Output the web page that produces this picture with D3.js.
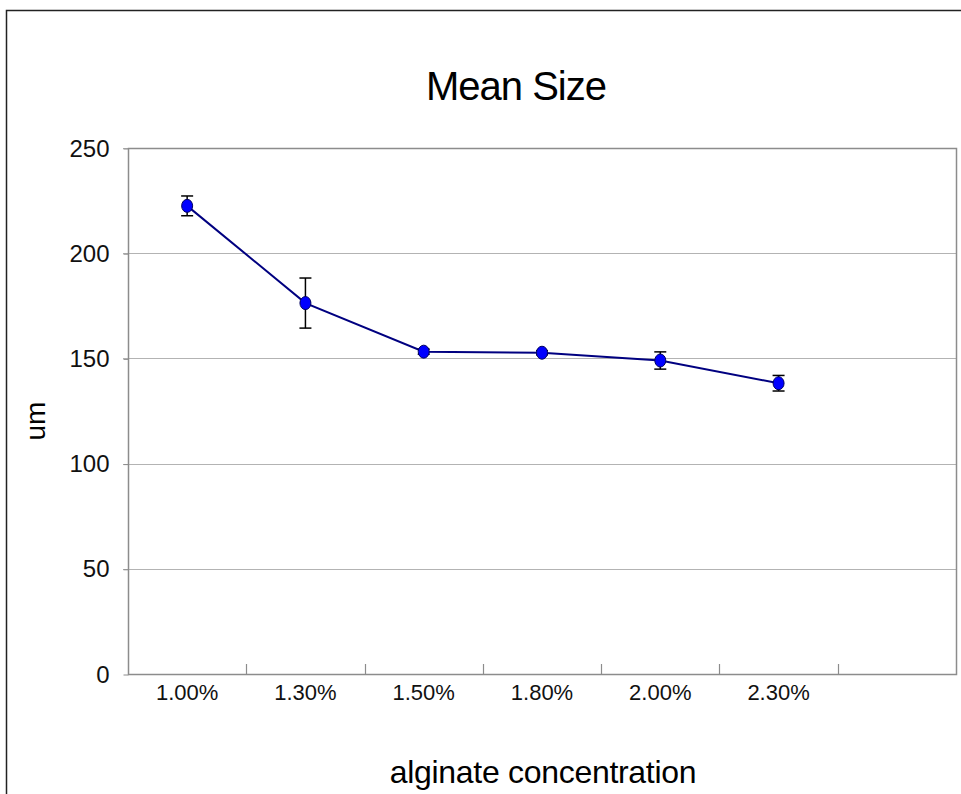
<!DOCTYPE html>
<html>
<head>
<meta charset="utf-8">
<script src="https://cdn.jsdelivr.net/npm/d3@7"></script>
<style>
  body { margin: 0; background: #fff; }
  svg { display: block; font-family: "Liberation Sans", Arial, sans-serif; }
</style>
</head>
<body>
<svg id="chart" width="961" height="794"></svg>
<script>
// data
const categories = ['1.00%', '1.30%', '1.50%', '1.80%', '2.00%', '2.30%'];
const meanSize = [222.5, 176.3, 153.2, 152.7, 149.0, 138.2];
const errSize = [4.7, 11.9, 1.2, 1.0, 4.1, 3.7];
const yTicks = [0, 50, 100, 150, 200, 250];
const slots = [...categories, ''];   // excel leaves one empty slot on the right

const svg = d3.select('#chart');
const margin = {left: 128, top: 148, right: 956, bottom: 674};

// outer frame
svg.append('rect')
    .attr('x', 6.5).attr('y', 10.5)
    .attr('width', 1000).attr('height', 1000)
    .attr('fill', 'none')
    .attr('stroke', '#222')
    .attr('stroke-width', 1.5);

const x = d3.scaleBand()
    .domain(slots)
    .range([margin.left, margin.right]);

const y = d3.scaleLinear()
    .domain([0, 250])
    .range([margin.bottom, margin.top]);

// gridlines
svg.append('g')
    .selectAll('line')
    .data(yTicks.filter(d => d > 0))
    .join('line')
    .attr('x1', margin.left - 5)
    .attr('x2', margin.right)
    .attr('y1', d => Math.round(y(d)) + 0.5)
    .attr('y2', d => Math.round(y(d)) + 0.5)
    .attr('stroke', '#b3b3b3')
    .attr('stroke-width', 1);

// plot border
svg.append('rect')
    .attr('x', margin.left + 0.5)
    .attr('y', margin.top + 0.5)
    .attr('width', margin.right - margin.left)
    .attr('height', margin.bottom - margin.top)
    .attr('fill', 'none')
    .attr('stroke', '#8c8c8c')
    .attr('stroke-width', 1.5);

// y axis
const yAxis = svg.append('g')
    .attr('transform', `translate(${margin.left + 0.5}, 0.5)`)
    .call(d3.axisLeft(y).tickValues(yTicks).tickSize(5).tickPadding(14));
yAxis.select('.domain').remove();
yAxis.selectAll('line').attr('stroke', '#8c8c8c');
yAxis.selectAll('text')
    .style('font-size', '24px')
    .attr('fill', '#111')
    .attr('font-family', '"Liberation Sans", Arial, sans-serif');

// x axis: inner ticks on slot boundaries
svg.append('g')
    .selectAll('line')
    .data(slots.slice(1))
    .join('line')
    .attr('x1', d => Math.round(x(d)) + 0.5)
    .attr('x2', d => Math.round(x(d)) + 0.5)
    .attr('y1', margin.bottom)
    .attr('y2', margin.bottom - 10)
    .attr('stroke', '#8c8c8c')
    .attr('stroke-width', 1.2);

svg.append('g')
    .selectAll('text')
    .data(categories)
    .join('text')
    .attr('x', d => x(d) + x.bandwidth() / 2)
    .attr('y', 700)
    .attr('text-anchor', 'middle')
    .style('font-size', '22px')
    .attr('fill', '#111')
    .text(d => d);

// titles
svg.append('text')
    .attr('x', 516)
    .attr('y', 100)
    .attr('text-anchor', 'middle')
    .style('font-size', '40px')
    .style('letter-spacing', '-1px')
    .text('Mean Size');

svg.append('text')
    .attr('x', 543)
    .attr('y', 783)
    .attr('text-anchor', 'middle')
    .style('font-size', '32px')
    .style('letter-spacing', '-0.3px')
    .text('alginate concentration');

svg.append('text')
    .attr('transform', 'translate(45, 421) rotate(-90)')
    .attr('text-anchor', 'middle')
    .style('font-size', '28px')
    .text('um');

// series
const pts = categories.map((c, i) => ({c, v: meanSize[i], e: errSize[i]}));
const cx = d => x(d.c) + x.bandwidth() / 2;

svg.append('path')
    .datum(pts)
    .attr('fill', 'none')
    .attr('stroke', '#000080')
    .attr('stroke-width', 2)
    .attr('d', d3.line().x(cx).y(d => y(d.v)));

// error bars
const err = svg.append('g').attr('stroke', '#000').attr('stroke-width', 1.5);
pts.forEach(d => {
    err.append('line')
        .attr('x1', cx(d)).attr('x2', cx(d))
        .attr('y1', y(d.v - d.e)).attr('y2', y(d.v + d.e));
    [d.v - d.e, d.v + d.e].forEach(v => {
        err.append('line')
            .attr('x1', cx(d) - 6).attr('x2', cx(d) + 6)
            .attr('y1', y(v)).attr('y2', y(v));
    });
});

svg.append('g')
    .selectAll('ellipse')
    .data(pts)
    .join('ellipse')
    .attr('cx', cx)
    .attr('cy', d => y(d.v))
    .attr('rx', 5.5)
    .attr('ry', 6.5)
    .attr('fill', '#0000ff')
    .attr('stroke', '#000060')
    .attr('stroke-width', 1);
</script>
</body>
</html>
